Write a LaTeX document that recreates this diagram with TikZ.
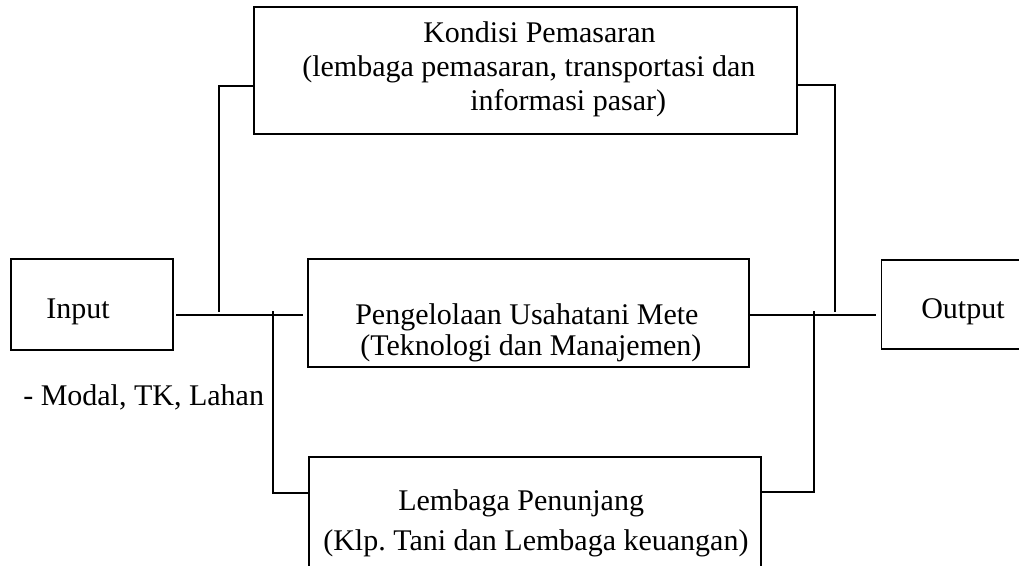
\documentclass[tikz,border=0pt]{standalone}
\usepackage{fontspec}
\setmainfont{Liberation Serif}
\frenchspacing
\begin{document}
\begin{tikzpicture}[x=0.75pt,y=-0.75pt,
  box/.style={draw=black,line width=1.4pt,rectangle,inner sep=0pt},
  txt/.style={anchor=base west,inner sep=0pt,font=\fontsize{22.5pt}{27pt}\selectfont},
  conn/.style={line width=1.4pt}]
\useasboundingbox (0,0) rectangle (1019,565);
\clip (0,0) rectangle (1019,565);
\fill[white] (0,0) rectangle (1019,565);
% boxes
\node[box,minimum width=543*0.75pt,minimum height=127*0.75pt] (top) at (525.5,70.5) {};
\node[box,minimum width=162*0.75pt,minimum height=91*0.75pt] (inp) at (92,304.5) {};
\node[box,minimum width=441*0.75pt,minimum height=108*0.75pt] (mid) at (528.5,313) {};
\node[box,minimum width=149*0.75pt,minimum height=89*0.75pt] (out) at (956,304.5) {};
\node[box,minimum width=452*0.75pt,minimum height=143*0.75pt] (bot) at (535,528.5) {};
% texts
\node[txt] (t1) at (423,42) {Kondisi Pemasaran};
\node[txt] (t2) at (302,76) {(lembaga pemasaran, transportasi dan};
\node[txt] (t3) at (470,110) {informasi pasar)};
\node[txt] (t4) at (46,318) {Input};
\node[txt] (t5) at (921,318) {Output};
\node[txt] (t6) at (355,324) {Pengelolaan Usahatani Mete};
\node[txt] (t7) at (360,355) {(Teknologi dan Manajemen)};
\node[txt] (t8) at (23,405) {- Modal, TK, Lahan};
\node[txt] (t9) at (398,510) {Lembaga Penunjang};
\node[txt] (t10) at (323,550) {(Klp.\ Tani dan Lembaga keuangan)};
% connector coordinates
\coordinate (a1) at (176,315);
\coordinate (a2) at (303,315);
\coordinate (a3) at (749,315);
\coordinate (a4) at (876,315);
\coordinate (j1) at (219,312);
\coordinate (tl) at (254,86);
\coordinate (tr) at (797,85);
\coordinate (j2) at (835,312);
\coordinate (j3) at (273,311);
\coordinate (bl) at (309,493);
\coordinate (j4) at (814,311);
\coordinate (br) at (761,492);
% connectors
\draw[conn] (a1) -- (a2);
\draw[conn] (a3) -- (a4);
\draw[conn] (j1) |- (tl);
\draw[conn] (tr) -| (j2);
\draw[conn] (j3) |- (bl);
\draw[conn] (j4) |- (br);
\end{tikzpicture}
\end{document}
